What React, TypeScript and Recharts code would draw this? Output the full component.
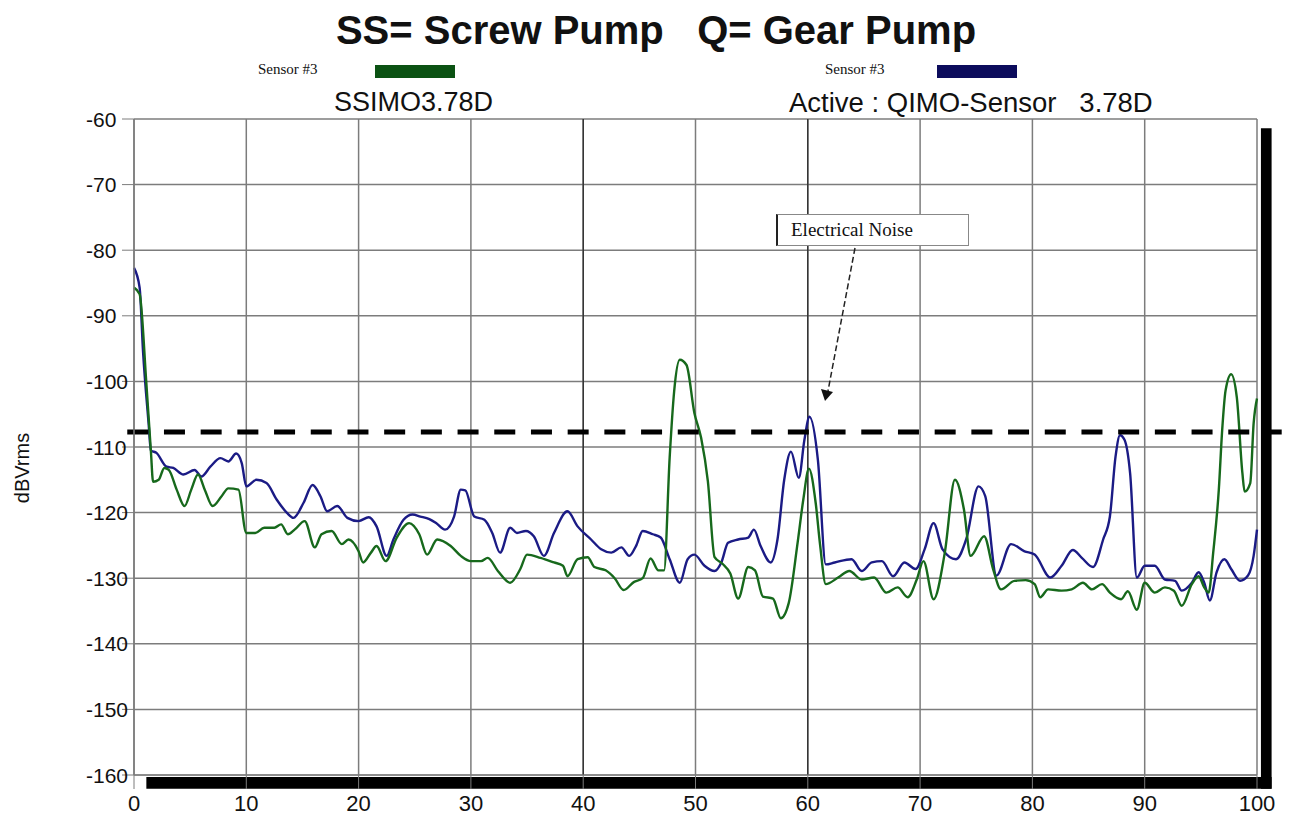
import {
    CartesianGrid, Line, LineChart, ReferenceArea, ReferenceLine, XAxis, YAxis
} from "recharts";

const X_TICKS = [0, 10, 20, 30, 40, 50, 60, 70, 80, 90, 100];
const Y_TICKS = [-160, -150, -140, -130, -120, -110, -100, -90, -80, -70, -60];
const NOISE_LEVEL = -107.7;

// SS = screw pump (green)
const SCREW_FREQ = [
    0, 0.5, 1.1, 1.5, 1.7, 2.2, 2.7, 3.1, 3.8, 4.5, 5.1, 5.7, 6.3, 7.0, 7.8, 8.4, 9.3,
    10.0, 10.8, 11.6, 12.5, 13.1, 13.7, 14.3, 15.2, 16.1, 16.7, 17.6, 18.5, 19.1,
    20.0, 20.4, 21.1, 21.6, 22.4, 23.4, 24.5, 25.4, 26.1, 27.0, 28.2, 29.1,
    30.0, 30.9, 31.5, 32.4, 33.5, 34.4, 35.0, 36.2, 37.4, 38.2, 38.6, 39.5,
    40.4, 41.0, 42.0, 42.8, 43.6, 44.5, 45.3, 46.0, 46.7, 47.2, 47.7, 48.1, 48.6, 49.2, 49.9,
    50.5, 51.1, 51.7, 52.4, 53.1, 53.8, 54.7, 55.3, 56.0, 56.9, 57.6, 58.3, 59.1, 59.6,
    60.1, 60.7, 61.1, 61.6, 62.7, 63.7, 64.8, 65.9, 67.0, 68.0, 68.9, 69.7,
    70.3, 71.2, 72.2, 73.1, 73.9, 74.5, 75.7, 76.5, 77.2, 78.4, 79.4,
    80.2, 80.7, 81.4, 82.6, 83.5, 84.5, 85.3, 86.2, 86.9, 87.9, 88.5, 89.3,
    90.0, 90.9, 91.8, 92.6, 93.3, 94.2, 94.8, 95.3, 95.7, 96.1, 96.6, 96.9, 97.2, 97.7,
    98.2, 98.7, 98.9, 99.4, 99.7, 100,
];
const SCREW_DB = [
    -85.7, -86.7, -100.3, -110.5, -115.3, -115.0, -113.2, -113.5, -116.5, -119.0, -116.5, -114.2, -116.5, -119.0, -117.5, -116.3, -116.5,
    -123.1, -123.1, -122.3, -122.3, -121.8, -123.3, -122.6, -121.3, -125.3, -123.3, -122.8, -124.8, -124.1,
    -125.9, -127.6, -126.1, -125.1, -127.4, -123.8, -121.6, -123.3, -126.4, -124.1, -125.1, -126.6,
    -127.4, -127.4, -126.9, -128.9, -130.7, -128.6, -126.4, -126.9, -127.6, -128.1, -129.7, -127.1,
    -126.8, -128.3, -128.8, -130.0, -131.8, -130.6, -130.0, -127.0, -128.8, -128.8, -111.6, -101.5, -96.7, -97.5, -104.8,
    -108.6, -115.2, -126.8, -127.8, -129.3, -133.1, -128.3, -128.8, -132.8, -133.1, -136.1, -133.8, -124.5, -118.0,
    -113.3, -118.5, -125.0, -130.9, -129.9, -128.9, -130.2, -129.9, -132.2, -131.4, -132.9, -130.2,
    -127.4, -133.2, -126.1, -115.0, -119.5, -126.6, -123.6, -128.6, -131.7, -130.4, -130.3,
    -130.9, -132.9, -131.7, -131.9, -131.7, -130.7, -131.7, -130.9, -132.2, -133.2, -132.0, -134.8,
    -130.7, -132.2, -131.4, -131.9, -134.2, -130.9, -129.7, -131.4, -132.2, -126.1, -116.5, -107.4, -101.4, -98.9,
    -102.4, -114.0, -116.8, -115.5, -106.4, -102.6,
];

// Q = gear pump (blue)
const GEAR_FREQ = [
    0, 0.5, 0.8, 1.3, 1.5, 2.0, 2.9, 3.5, 4.4, 5.4, 6.0, 6.8, 7.7, 8.4, 9.1, 9.6,
    10.0, 10.9, 11.8, 12.7, 13.6, 14.2, 15.1, 15.9, 16.6, 17.2, 18.1, 19.0,
    20.0, 20.9, 21.6, 22.5, 23.1, 24.0, 24.8, 25.5, 26.3, 26.9, 27.7, 28.5, 29.1, 29.5,
    30.3, 31.2, 31.9, 32.6, 33.5, 34.1, 34.9, 35.6, 36.5, 37.4, 38.6, 39.5,
    40.7, 41.6, 42.5, 43.4, 44.1, 44.7, 45.3, 46.2, 46.9, 47.7, 48.6, 49.3, 49.9,
    50.8, 51.7, 52.3, 52.9, 53.8, 54.7, 55.2, 55.8, 56.7, 57.3, 57.9, 58.5, 59.2, 59.7,
    60.15, 60.9, 61.6, 62.4, 63.9, 64.8, 65.7, 66.6, 67.6, 68.6, 69.6,
    70.4, 71.2, 72.0, 73.2, 74.1, 75.2, 75.8, 76.8, 78.1, 79.3,
    80.2, 81.6, 82.6, 83.6, 84.4, 85.4, 86.3, 86.9, 87.4, 87.8, 88.2, 88.7, 89.3,
    90.0, 90.9, 91.8, 92.7, 93.3, 94.2, 94.8, 95.3, 95.8, 96.4, 97.1, 97.7, 98.5, 99.2, 99.7, 100,
];
const GEAR_DB = [
    -82.7, -85.7, -95.3, -106.4, -110.5, -110.9, -113.0, -113.2, -114.2, -113.5, -114.5, -113.0, -111.7, -112.2, -111.0, -112.5,
    -116.0, -115.0, -115.5, -118.0, -120.0, -120.8, -118.5, -115.8, -117.5, -119.8, -119.0, -120.8,
    -121.3, -120.7, -122.1, -126.6, -124.1, -121.1, -120.3, -120.6, -121.0, -121.6, -122.6, -120.6, -116.5, -116.6,
    -120.6, -121.1, -123.1, -126.1, -122.3, -123.1, -122.8, -123.6, -126.6, -123.1, -119.8, -122.1,
    -124.1, -125.6, -126.1, -125.3, -126.6, -125.1, -122.8, -123.3, -123.8, -127.1, -130.7, -127.1, -126.4,
    -128.1, -128.9, -127.6, -124.6, -124.1, -123.8, -122.6, -125.1, -127.6, -124.1, -115.0, -110.7, -114.7, -108.9,
    -105.4, -112.0, -127.9, -127.6, -127.1, -128.9, -127.6, -127.4, -129.7, -127.6, -128.6,
    -125.6, -121.6, -125.6, -127.1, -124.1, -116.0, -117.5, -129.6, -124.8, -125.9,
    -126.4, -129.9, -128.1, -125.7, -126.9, -128.3, -124.1, -120.6, -111.5, -108.2, -108.9, -114.0, -129.9,
    -128.1, -128.1, -130.2, -130.4, -131.9, -130.7, -129.1, -130.7, -133.4, -129.1, -127.1, -128.6, -130.4, -129.6, -126.6, -122.6,
];

const screwData = SCREW_FREQ.map((freq, i) => ({ freq, db: SCREW_DB[i] }));
const gearData = GEAR_FREQ.map((freq, i) => ({ freq, db: GEAR_DB[i] }));

const SANS = "'Liberation Sans', Arial, sans-serif";
const SERIF = "'Liberation Serif', 'Times New Roman', serif";
const GRID = "#7c7c7c";
const GREEN = "#17691c";
const BLUE = "#1b1b85";

function YTick({ y, payload }: any) {
    return (
        <text x={86} y={y} dy="0.36em" fontSize={21} fill="#111" fontFamily={SANS}>
            {payload.value}
        </text>
    );
}

function XTick({ x, y, payload }: any) {
    return (
        <text x={x} y={y} dy="0.71em" textAnchor="middle" fontSize={22} fill="#111" fontFamily={SANS}>
            {payload.value}
        </text>
    );
}

const abs = (left: number, top: number, extra: React.CSSProperties = {}): React.CSSProperties => ({
    position: "absolute", left, top, whiteSpace: "pre", ...extra,
});

export default function App() {
    return (
        <div style={{ position: "absolute", left: 0, top: 0, width: 1292, height: 837, background: "#fff", fontFamily: SANS, color: "#111" }}>
            <div style={abs(0, 10, { width: 1292, paddingLeft: 20, boxSizing: "border-box", textAlign: "center", fontSize: 40, lineHeight: "40px", fontWeight: 700 })}>
                SS= Screw Pump   Q= Gear Pump
            </div>

            <div style={abs(258, 62, { fontFamily: SERIF, fontSize: 15, lineHeight: "15px" })}>Sensor #3</div>
            <div style={{ position: "absolute", left: 375, top: 65, width: 80, height: 13, background: "#0b5213" }} />
            <div style={abs(825, 62, { fontFamily: SERIF, fontSize: 15, lineHeight: "15px" })}>Sensor #3</div>
            <div style={{ position: "absolute", left: 937, top: 65, width: 80, height: 13, background: "#0c0c5c" }} />

            <div style={abs(334, 89, { fontSize: 27, lineHeight: "27px" })}>SSIMO3.78D</div>
            <div style={abs(789, 89, { fontSize: 27.5, lineHeight: "27px" })}>Active : QIMO-Sensor   3.78D</div>

            <div style={abs(0, 0, { left: 22, top: 468, transform: "translate(-50%, -50%) rotate(-90deg)", fontSize: 20, lineHeight: "20px" })}>
                dBVrms
            </div>

            <div style={{ position: "absolute", left: 0, top: 0 }}>
                <LineChart width={1292} height={837} margin={{ top: 119, right: 35, bottom: 22, left: 0 }}>
                    <CartesianGrid stroke={GRID} strokeWidth={1.5} />
                    <XAxis
                        dataKey="freq" type="number" domain={[0, 100]} ticks={X_TICKS} interval={0}
                        height={40} tick={<XTick />} tickSize={14} tickMargin={6}
                        tickLine={{ stroke: GRID }} axisLine={{ stroke: GRID }}
                    />
                    <YAxis
                        type="number" domain={[-160, -60]} ticks={Y_TICKS} interval={0}
                        width={134} tick={<YTick />} tickSize={12}
                        tickLine={{ stroke: GRID }} axisLine={{ stroke: GRID, strokeWidth: 1.5 }}
                    />
                    <ReferenceLine x={40} stroke="#222" strokeWidth={1.2} />
                    <ReferenceLine x={60} stroke="#222" strokeWidth={1.2} />
                    <ReferenceArea x1={1.1} x2={101.3} y1={-162.1} y2={-160.3} fill="#000" fillOpacity={1} stroke="none" ifOverflow="visible" />
                    <ReferenceArea x1={100.35} x2={101.3} y1={-162.1} y2={-61.4} fill="#000" fillOpacity={1} stroke="none" ifOverflow="visible" />
                    <Line data={gearData} dataKey="db" type="monotone" stroke={BLUE} strokeWidth={2.4} dot={false} isAnimationActive={false} />
                    <Line data={screwData} dataKey="db" type="monotone" stroke={GREEN} strokeWidth={2.4} dot={false} isAnimationActive={false} />
                    <ReferenceLine
                        segment={[{ x: -0.6, y: NOISE_LEVEL }, { x: 102.2, y: NOISE_LEVEL }]}
                        stroke="#000" strokeWidth={5} strokeDasharray="21 15.7" ifOverflow="visible"
                    />
                </LineChart>
            </div>

            <div style={{ position: "absolute", left: 776, top: 214, width: 190, height: 30, background: "#fff", border: "1px solid #888", borderLeft: "2px solid #222" }}>
                <span style={{ position: "absolute", left: 13, top: 5, fontFamily: SERIF, fontSize: 19, lineHeight: "19px" }}>Electrical Noise</span>
            </div>
            <svg width={1292} height={837} style={{ position: "absolute", left: 0, top: 0, pointerEvents: "none" }}>
                <line x1={855} y1={248} x2={828} y2={391} stroke="#222" strokeWidth={1.5} strokeDasharray="6 3" />
                <polygon points="821,389 833,392 825,401" fill="#111" />
            </svg>
        </div>
    );
}
